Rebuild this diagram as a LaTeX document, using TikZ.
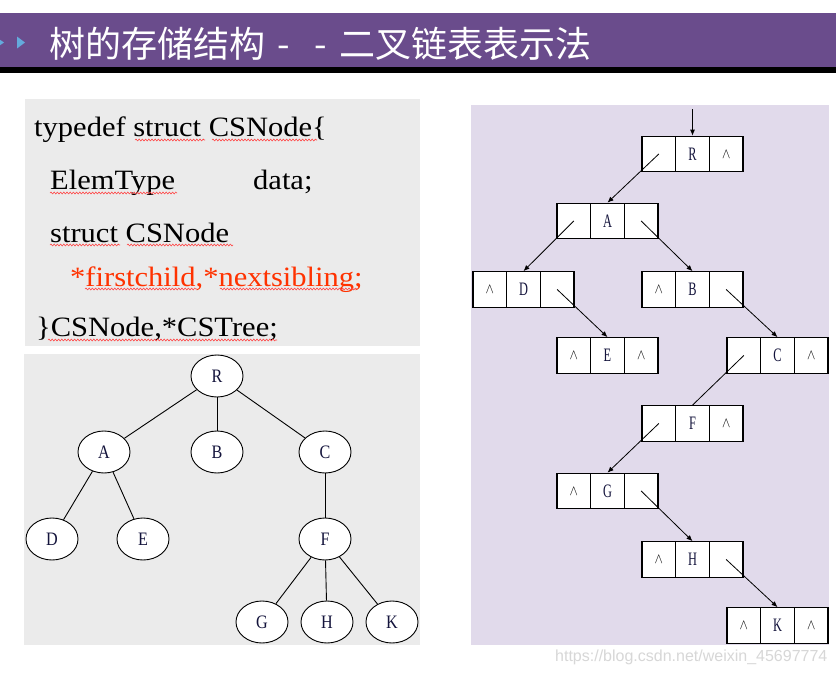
\documentclass[tikz,border=0pt]{standalone}
\usepackage{fontspec}
\usepackage{graphicx}
\usetikzlibrary{arrows.meta,shapes.geometric,decorations.pathmorphing}
\newfontfamily\cjk{Noto Sans CJK SC}
\newfontfamily\codefont[FakeStretch=1.09]{Liberation Serif}
\newfontfamily\lblfont{Liberation Serif}
\newfontfamily\wmfont{Liberation Sans}
\definecolor{hdr}{RGB}{106,76,140}
\definecolor{tri}{RGB}{100,170,220}
\definecolor{codebg}{RGB}{235,235,235}
\definecolor{lav}{RGB}{225,218,235}
\definecolor{codered}{RGB}{255,50,0}
\definecolor{wavy}{RGB}{255,70,70}
\definecolor{lblcol}{RGB}{20,20,60}
\definecolor{wm}{RGB}{215,215,215}
\newcommand\treelbl[1]{{\lblfont\fontsize{19}{19}\selectfont\scalebox{0.85}[1]{#1}}}
\newcommand\reclbl[1]{{\lblfont\fontsize{19}{19}\selectfont\scalebox{0.65}[1]{#1}}}
\newcommand\nul{\scalebox{1.25}[1.45]{$\wedge$}}
\newcommand\rec[6]{%
  \node[cell] (#1-l) at ({#2-33.7},#3) {#4};
  \node[cell, text=lblcol] (#1) at (#2,#3) {\reclbl{#5}};
  \node[cell] (#1-r) at ({#2+33.7},#3) {#6};
}
\begin{document}
\begin{tikzpicture}[x=1pt,y=-1pt,
  titletext/.style={inner sep=0, text=white, font=\cjk\fontsize{36}{36}\selectfont},
  code/.style={anchor=base west, inner sep=0, font=\codefont\fontsize{28}{28}\selectfont},
  wav/.style={draw=wavy, line width=0.6, decorate, decoration={snake, amplitude=0.9, segment length=3.2}},
  tnode/.style={ellipse, draw, fill=white, minimum width=52, minimum height=42, inner sep=0, line width=0.9, text=lblcol},
  tedge/.style={draw, line width=0.9},
  cell/.style={draw, fill=white, minimum width=33.7, minimum height=35.5, inner sep=0, line width=1.2},
  ptr/.style={draw, line width=0.8, -{Latex[length=6,width=5]}},
  plain/.style={draw, line width=0.8}
]
\useasboundingbox (0,0) rectangle (836,675);
\fill[white] (0,0) rectangle (836,675);
% header
\fill[hdr] (0,12.5) rectangle (836,67);
\fill[black] (0,67) rectangle (836,73);
\fill[tri] (-4,37) -- (4,42.5) -- (-4,48) -- cycle;
\fill[tri] (17,36.5) -- (25,42.5) -- (17,48.5) -- cycle;
\node[titletext, anchor=west] (t1) at (49,44) {树的存储结构};
\path (t1.base west) ++(235,0) node[titletext, anchor=base] (h1) {-};
\path (t1.base west) ++(271.5,0) node[titletext, anchor=base] (h2) {-};
\path (t1.base west) ++(290,0) node[titletext, anchor=base west] (t2) {二叉链表表示法};
% panels
\fill[codebg] (25,99) rectangle (420,346);
\fill[codebg] (24,354) rectangle (420,645);
\fill[lav] (471,105) rectangle (829,645);
% code
\node[code] (c1) at (34,136) {typedef struct CSNode\{};
\node[code] (c2) at (50,189) {ElemType};
\node[code] (c2b) at (253,189) {data;};
\node[code] (c3) at (50,242) {struct CSNode};
\node[code, text=codered] (c4) at (70,286) {*firstchild,*nextsibling;};
\node[code] (c5) at (36,336) {\}CSNode,*CSTree;};
\path[wav] (135,140) -- (205,140);
\path[wav] (212,140) -- (317,140);
\path[wav] (50,193) -- (177,193);
\path[wav] (50,245) -- (120,245);
\path[wav] (127,245) -- (233,245);
\path[wav] (85,289) -- (197,289);
\path[wav] (220,289) -- (357,289);
\path[wav] (48,340) -- (277,340);
% tree
\node[tnode] (tR) at (217,376) {\treelbl{R}};
\node[tnode] (tA) at (104,452) {\treelbl{A}};
\node[tnode] (tB) at (217,452) {\treelbl{B}};
\node[tnode] (tC) at (325,452) {\treelbl{C}};
\node[tnode] (tD) at (52,539) {\treelbl{D}};
\node[tnode] (tE) at (143,539) {\treelbl{E}};
\node[tnode] (tF) at (325,539) {\treelbl{F}};
\node[tnode] (tG) at (262,622) {\treelbl{G}};
\node[tnode] (tH) at (327,622) {\treelbl{H}};
\node[tnode] (tK) at (392,622) {\treelbl{K}};
\draw[tedge] (tR) -- (tA);
\draw[tedge] (tR) -- (tB);
\draw[tedge] (tR) -- (tC);
\draw[tedge] (tA) -- (tD);
\draw[tedge] (tA) -- (tE);
\draw[tedge] (tC) -- (tF);
\draw[tedge] (tF) -- (tG);
\draw[tedge] (tF) -- (tH);
\draw[tedge] (tF) -- (tK);
% linked records
\rec{R}{692.5}{154}{}{R}{\nul}
\rec{A}{607.5}{221}{}{A}{}
\rec{D}{523.5}{289.5}{\nul}{D}{}
\rec{B}{692.5}{289.5}{\nul}{B}{}
\rec{E}{607.5}{355.5}{\nul}{E}{\nul}
\rec{C}{777.5}{355.5}{}{C}{\nul}
\rec{F}{692.5}{423.5}{}{F}{\nul}
\rec{G}{607.5}{491}{\nul}{G}{}
\rec{H}{692.5}{559.5}{\nul}{H}{}
\rec{K}{777.5}{625.5}{\nul}{K}{\nul}
\coordinate (entry) at (692.5,109);
\draw[ptr] (entry) -- (R.north);
\draw[ptr] (R-l.center) -- (A.north);
\draw[ptr] (A-l.center) -- (D.north);
\draw[ptr] (A-r.center) -- (B.north);
\draw[ptr] (D-r.center) -- (E.north);
\draw[ptr] (B-r.center) -- (C.north);
\draw[plain] (C-l.center) -- (F.north);
\draw[ptr] (F-l.center) -- (G.north);
\draw[ptr] (G-r.center) -- (H.north);
\draw[ptr] (H-r.center) -- (K.north);
% watermark
\node[anchor=west, inner sep=0, text=wm, font=\wmfont\fontsize{16}{16}\selectfont] (wmk) at (555,657) {https://blog.csdn.net/weixin\_45697774};
\end{tikzpicture}
\end{document}
